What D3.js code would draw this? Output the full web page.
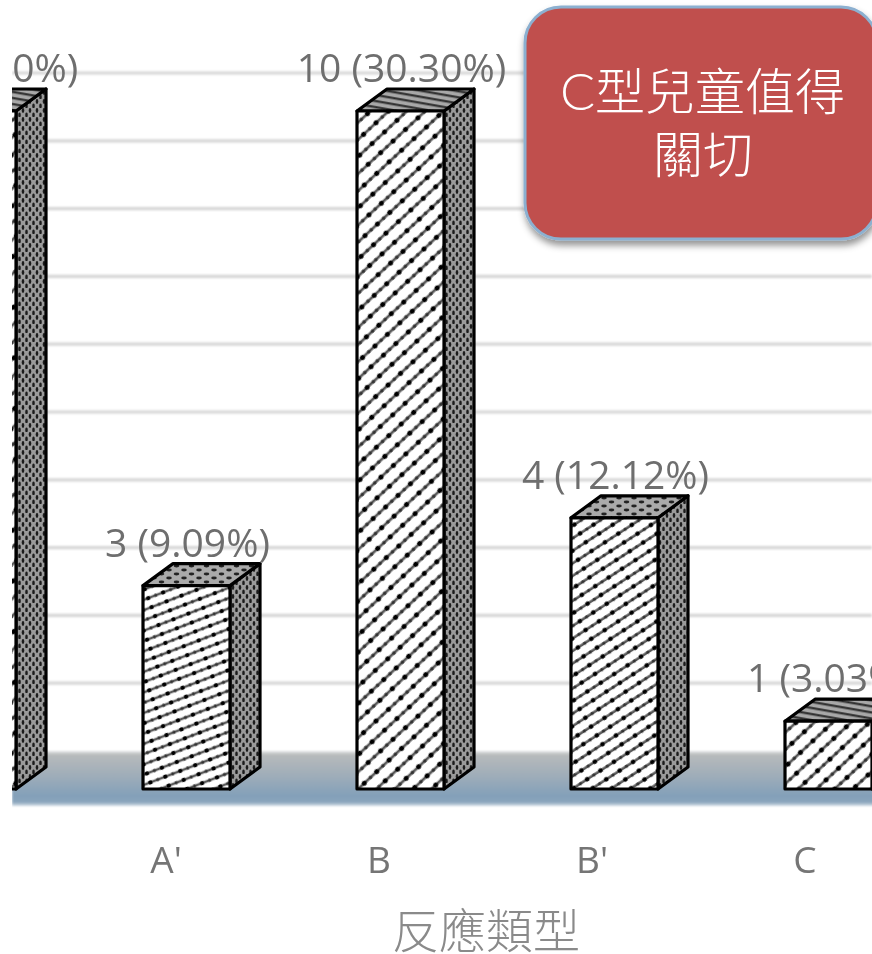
<!DOCTYPE html>
<html><head><meta charset="utf-8">
<style>html,body{margin:0;padding:0;background:#fff;overflow:hidden}svg{display:block}</style>
<script src="https://cdn.jsdelivr.net/npm/d3@7"></script>
</head><body><svg id="c" width="872" height="954"></svg>
<script>
const categories = ["A","A'","B","B'","C"];
const counts = [10,3,10,4,1];
const percents = ["30.30%","9.09%","30.30%","12.12%","3.03%"];
const gridTicks = [0,1,2,3,4,5,6,7,8,9,10];
const axisTitle = "反應類型";
const calloutLines = ["型兒童值得","關切"];
const calloutLead = "C";

const W=872,H=954;
const svg=d3.select("#c");
const defs=svg.append("defs");
const clipLeft=12;
defs.append("clipPath").attr("id","plot").append("rect").attr("x",clipLeft).attr("y",0).attr("width",W).attr("height",H);

const soft=defs.append("filter").attr("id","soft").attr("x","-5%").attr("y","-5%").attr("width","110%").attr("height","110%");
soft.append("feGaussianBlur").attr("stdDeviation",0.8);
const softBar=defs.append("filter").attr("id","softBar").attr("x","-5%").attr("y","-5%").attr("width","110%").attr("height","110%");
softBar.append("feGaussianBlur").attr("stdDeviation",0.75);
const softText=defs.append("filter").attr("id","softText");
softText.append("feGaussianBlur").attr("stdDeviation",0.6);
const shadow=defs.append("filter").attr("id","shadow").attr("x","-10%").attr("y","-10%").attr("width","120%").attr("height","125%");
shadow.append("feDropShadow").attr("dx",1).attr("dy",5).attr("stdDeviation",3.5).attr("flood-color","#000").attr("flood-opacity",0.42);

const floorGrad=defs.append("linearGradient").attr("id","floor").attr("x1",0).attr("x2",0).attr("y1",0).attr("y2",1);
[[0,"#e6e7e7"],[0.07,"#b7babb"],[0.45,"#9fadb9"],[0.82,"#83a0b9"],[0.93,"#8aa5bc"],[1,"#d5dfe7"]].forEach(d=>floorGrad.append("stop").attr("offset",d[0]).attr("stop-color",d[1]));

function frontPattern(id,angle,gap,pitch,band,r){
  const p=defs.append("pattern").attr("id",id).attr("patternUnits","userSpaceOnUse").attr("width",pitch).attr("height",gap)
    .attr("patternTransform",`rotate(${angle})`);
  p.append("rect").attr("width",pitch).attr("height",gap).attr("fill","#fff");
  p.append("rect").attr("y",gap*0.7-band/2).attr("width",pitch).attr("height",band).attr("fill","#5a5a5a");
  [0.25,0.75].forEach((f,k)=>p.append("circle").attr("cx",pitch*f).attr("cy",gap*0.7).attr("r",k?r*0.75:r).attr("fill",k?"#333":"#000"));
}
frontPattern("fSteep",-43,12.5,17,2.7,2.5);
frontPattern("fMid",-33,10.5,16,2.6,2.3);
frontPattern("fFlat",-21,9.6,16,2.5,2.2);

const sp=defs.append("pattern").attr("id","side").attr("patternUnits","userSpaceOnUse").attr("width",7).attr("height",9);
sp.append("rect").attr("width",7).attr("height",9).attr("fill","#9a9a9a");
sp.append("ellipse").attr("cx",2).attr("cy",2.5).attr("rx",1.3).attr("ry",2.4).attr("fill","#1e1e1e");
sp.append("ellipse").attr("cx",5.5).attr("cy",7).attr("rx",1.3).attr("ry",2.4).attr("fill","#1e1e1e");

const tp=defs.append("pattern").attr("id","topStripe").attr("patternUnits","userSpaceOnUse").attr("width",14).attr("height",6).attr("patternTransform","rotate(10)");
tp.append("rect").attr("width",14).attr("height",6).attr("fill","#a8a8a8");
tp.append("rect").attr("y",3.2).attr("width",14).attr("height",2.2).attr("fill","#2c2c2c");
const td=defs.append("pattern").attr("id","topDots").attr("patternUnits","userSpaceOnUse").attr("width",15).attr("height",8);
td.append("rect").attr("width",15).attr("height",8).attr("fill","#aaaaaa");
td.append("ellipse").attr("cx",4).attr("cy",2).attr("rx",2.8).attr("ry",1.4).attr("fill","#222");
td.append("ellipse").attr("cx",11.5).attr("cy",6).attr("rx",2.8).attr("ry",1.4).attr("fill","#222");

const frontFill=["fSteep","fFlat","fSteep","fMid","fSteep"];
const topFill=["topStripe","topDots","topStripe","topDots","topStripe"];

const y=d3.scaleLinear().domain([0,10]).range([751,73]);
const p=1-87/214;
const x=d3.scaleBand().domain(categories).range([-71,872]).paddingInner(p).paddingOuter(0);
const xLabel=d3.scalePoint().domain(categories).range([-47,805]);
const depthX=30, backDrop=16, frontDrop=38;

const root=svg.append("g").attr("clip-path","url(#plot)");

root.append("rect").attr("x",clipLeft).attr("y",y(0)).attr("width",W).attr("height",55).attr("fill","url(#floor)").attr("filter","url(#soft)");
const grid=root.append("g").attr("filter","url(#soft)");
grid.selectAll("line").data(gridTicks.filter(d=>d>0)).join("line")
  .attr("x1",clipLeft).attr("x2",W).attr("y1",d=>y(d)).attr("y2",d=>y(d))
  .attr("stroke","#d6d6d6").attr("stroke-width",3.2);

const bars=root.append("g").attr("filter","url(#softBar)");
categories.forEach((c,i)=>{
  const l=x(c), r=l+x.bandwidth(), t=y(counts[i])+frontDrop, b=y(0)+frontDrop;
  const g=bars.append("g").attr("stroke","#000").attr("stroke-width",3.2).attr("stroke-linejoin","round");
  g.append("path").attr("d",d3.line()([[r,t],[r+depthX,y(counts[i])+backDrop],[r+depthX,y(0)+backDrop],[r,b]])+"Z").attr("fill","url(#side)");
  g.append("path").attr("d",d3.line()([[l,t],[l+depthX,y(counts[i])+backDrop],[r+depthX,y(counts[i])+backDrop],[r,t]])+"Z").attr("fill",`url(#${topFill[i]})`);
  g.append("rect").attr("x",l).attr("y",t).attr("width",x.bandwidth()).attr("height",b-t).attr("fill",`url(#${frontFill[i]})`);
});

const font="'Open Sans','Noto Sans CJK TC',sans-serif";
const labels=root.append("g").attr("filter","url(#softText)").attr("font-family",font).attr("fill","#6e6e6e").attr("text-anchor","middle");
categories.forEach((c,i)=>{
  labels.append("text").attr("x",x(c)+x.bandwidth()/2+1).attr("y",y(counts[i])+9).attr("font-size",39)
    .text(`${counts[i]} (${percents[i]})`);
  labels.append("text").attr("x",xLabel(c)).attr("y",873).attr("font-size",37).attr("fill","#757575").text(c);
});
labels.append("text").attr("x",486).attr("y",948).attr("font-size",47).attr("font-weight",300).attr("fill","#8a8a8a")
  .attr("font-family","'Noto Sans CJK TC',sans-serif").text(axisTitle);

const call=svg.append("g");
call.append("rect").attr("x",525).attr("y",7).attr("width",352).attr("height",232).attr("rx",36)
  .attr("fill","#c0504d").attr("stroke","#8cb0d0").attr("stroke-width",3).attr("filter","url(#shadow)");
const callText=call.append("g").attr("font-family","'Noto Sans CJK TC',sans-serif").attr("font-weight",300).attr("fill","#fff").attr("text-anchor","middle").attr("font-size",50);
calloutLines.forEach((t,i)=>{
  const tx=callText.append("text").attr("x",i?703:702.5).attr("y",110+i*63);
  if(i===0) tx.append("tspan").attr("font-family","Lato,sans-serif").attr("font-size",52).text(calloutLead);
  tx.append("tspan").text(t);
});
</script></body></html>
